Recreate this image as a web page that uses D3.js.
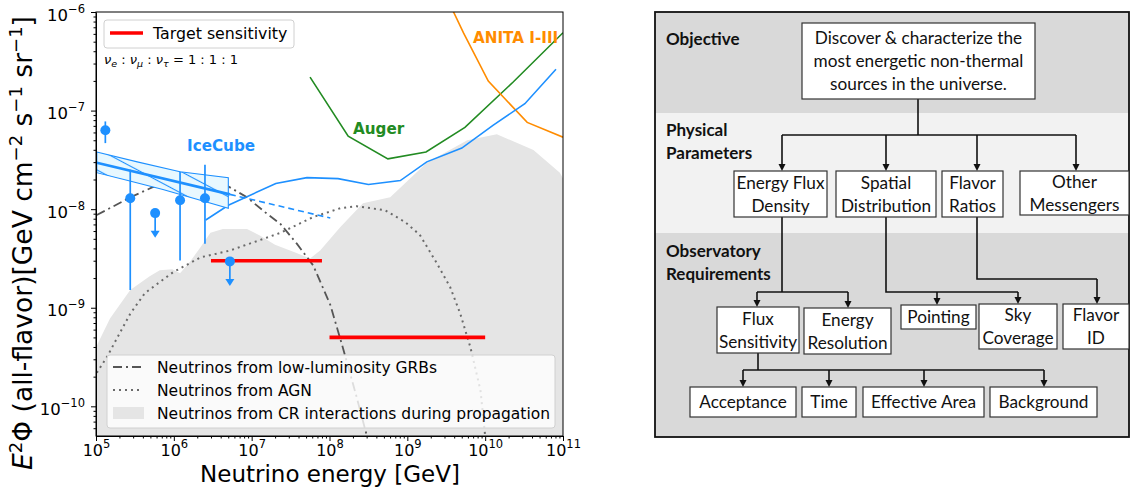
<!DOCTYPE html>
<html>
<head>
<meta charset="utf-8">
<script src="https://cdn.jsdelivr.net/npm/d3@7"></script>
<style>
  body { margin: 0; background: #fff; }
  svg { display: block; }
</style>
</head>
<body>
<div id="chart"></div>
<script>
// values, as [log10 E/GeV, log10 E^2 Phi]
const crFlux = [[5.00, -9.40], [5.18, -9.11], [5.44, -8.82], [5.69, -8.68], [5.82, -8.62], [5.98, -8.61],
  [6.08, -8.65], [6.21, -8.53], [6.34, -8.39], [6.47, -8.24], [6.63, -8.20], [6.94, -8.20], [7.11, -8.27],
  [7.30, -8.36], [7.56, -8.44], [7.75, -8.50], [7.88, -8.42], [8.14, -8.18], [8.43, -7.94], [8.78, -7.88],
  [9.25, -7.53], [9.77, -7.30], [10.15, -7.24], [10.62, -7.40], [10.96, -7.63], [11.00, -7.69]];
const agnFlux = [[5.01, -9.66], [5.14, -9.50], [5.44, -9.06], [5.63, -8.85], [5.99, -8.64], [6.34, -8.49],
  [6.72, -8.42], [7.37, -8.24], [7.79, -8.08], [8.14, -7.99], [8.35, -7.97], [8.71, -8.01], [8.97, -8.13],
  [9.16, -8.26], [9.38, -8.55], [9.55, -8.79], [9.68, -9.06], [9.81, -9.40], [9.94, -9.84], [10.00, -10.30]];
const grbFlux = [[5.01, -8.06], [5.44, -7.88], [5.72, -7.78], [6.02, -7.73], [6.34, -7.72], [6.68, -7.76],
  [6.94, -7.88], [7.17, -8.03], [7.37, -8.15], [7.58, -8.35], [7.79, -8.57], [8.01, -8.97], [8.17, -9.40],
  [8.35, -9.91], [8.48, -10.30]];
const augerLimit = [[7.75, -6.66], [8.24, -7.26], [8.75, -7.49], [9.24, -7.42], [9.74, -7.17], [10.36, -6.71], [11.00, -6.21]];
const anitaLimit = [[9.57, -5.96], [9.72, -6.21], [10.04, -6.70], [10.54, -7.12], [11.00, -7.27]];
const icecubeLimit = [[6.41, -8.11], [6.70, -7.96], [7.31, -7.74], [7.71, -7.68], [8.11, -7.69], [8.50, -7.75],
  [8.91, -7.71], [9.25, -7.52], [9.70, -7.38], [10.10, -7.15], [10.51, -6.93], [10.91, -6.58]];
const icecubeFit = [[5.01, -7.53], [6.72, -7.85]];
const icecubeFitExt = [[6.72, -7.85], [8.01, -8.09]];
const bandUpper = [[5.01, -7.42], [5.53, -7.52], [6.08, -7.62], [6.70, -7.68]];
const bandLower = [[5.01, -7.63], [5.41, -7.71], [5.86, -7.80], [6.70, -7.99]];
// [logE, logF, logF low, logF high]
const icecubePoints = [[5.12, -7.20, -7.33, -7.11], [5.44, -7.89, -8.82, -7.60],
  [6.08, -7.91, -8.52, -7.62], [6.40, -7.89, -8.35, -7.55]];
const icecubeUpperLimits = [[5.76, -8.04], [6.72, -8.53]];
// target sensitivity: [E from, E to, flux]
const targets = [[3e6, 8e7, 3e-9], [1e8, 1e10, 5e-10]];

const xTickExps = [5, 6, 7, 8, 9, 10, 11];
const yTickExps = [-10, -9, -8, -7, -6];
const legendLines = ['Neutrinos from low-luminosity GRBs', 'Neutrinos from AGN',
  'Neutrinos from CR interactions during propagation'];

// diagram texts
const bandTitles = [['Objective'], ['Physical', 'Parameters'], ['Observatory', 'Requirements']];
const boxTexts = {
  objective: ['Discover & characterize the', 'most energetic non-thermal', 'sources in the universe.'],
  flux: ['Energy Flux', 'Density'], spatial: ['Spatial', 'Distribution'], flavor: ['Flavor', 'Ratios'],
  other: ['Other', 'Messengers'], fluxSens: ['Flux', 'Sensitivity'], eres: ['Energy', 'Resolution'],
  pointing: ['Pointing'], sky: ['Sky', 'Coverage'], flavorId: ['Flavor', 'ID'],
  acceptance: ['Acceptance'], time: ['Time'], area: ['Effective Area'], background: ['Background']
};

const svg = d3.select('#chart').append('svg')
  .attr('width', 1130)
  .attr('height', 488)
  .style('font-family', 'DejaVu Sans');

const x = d3.scaleLog().domain([1e5, 1e11]).range([96, 563]);
const y = d3.scaleLog().domain([5e-11, 1e-6]).range([436, 12]);
const line = d3.line().x(d => x(10 ** d[0])).y(d => y(10 ** d[1]));

const defs = svg.append('defs');
defs.append('clipPath').attr('id', 'plotclip')
  .append('rect').attr('x', 96).attr('y', 12).attr('width', 467).attr('height', 424);
const hatch = defs.append('pattern').attr('id', 'hatch')
  .attr('patternUnits', 'userSpaceOnUse')
  .attr('width', 10).attr('height', 19)
  .attr('patternTransform', 'rotate(28)');
hatch.append('rect').attr('width', 10).attr('height', 19).attr('fill', '#e8f8ff');
hatch.append('line').attr('x1', 0).attr('x2', 10).attr('y1', 9.5).attr('y2', 9.5)
  .attr('stroke', '#1e90ff').attr('stroke-width', 1.1);

const plot = svg.append('g').attr('clip-path', 'url(#plotclip)');

// CR fill
const crArea = crFlux.concat([[11, -10.4], [5, -10.4]]);
plot.append('path').attr('d', line(crArea) + 'Z').attr('fill', '#e5e5e5');

// models
plot.append('path').attr('d', line(agnFlux)).attr('fill', 'none')
  .attr('stroke', '#6a6a6a').attr('stroke-width', 2).attr('stroke-dasharray', '2,4');
plot.append('path').attr('d', line(grbFlux)).attr('fill', 'none')
  .attr('stroke', '#555').attr('stroke-width', 1.8).attr('stroke-dasharray', '9,4,2,4');

// experiments
plot.append('path').attr('d', line(augerLimit)).attr('fill', 'none')
  .attr('stroke', '#228b22').attr('stroke-width', 1.6);
plot.append('path').attr('d', line(anitaLimit)).attr('fill', 'none')
  .attr('stroke', '#ff8c00').attr('stroke-width', 1.6);
plot.append('path').attr('d', line(icecubeLimit)).attr('fill', 'none')
  .attr('stroke', '#1e90ff').attr('stroke-width', 1.6);

// IceCube band
const band = bandUpper.concat(bandLower.slice().reverse());
plot.append('path').attr('d', line(band) + 'Z')
  .attr('fill', 'url(#hatch)').attr('stroke', '#1e90ff').attr('stroke-width', 1.1);
plot.append('path').attr('d', line(icecubeFit)).attr('fill', 'none')
  .attr('stroke', '#1e90ff').attr('stroke-width', 2.6);
plot.append('path').attr('d', line(icecubeFitExt)).attr('fill', 'none')
  .attr('stroke', '#1e90ff').attr('stroke-width', 1.6).attr('stroke-dasharray', '6,4');

// target sensitivity
plot.selectAll('.target').data(targets).enter().append('line')
  .attr('x1', d => x(d[0])).attr('x2', d => x(d[1]))
  .attr('y1', d => y(d[2])).attr('y2', d => y(d[2]))
  .attr('stroke', '#ff0000').attr('stroke-width', 3.6);

// IceCube points
plot.selectAll('.ebar').data(icecubePoints).enter().append('line')
  .attr('x1', d => x(10 ** d[0])).attr('x2', d => x(10 ** d[0]))
  .attr('y1', d => y(10 ** d[2])).attr('y2', d => y(10 ** d[3]))
  .attr('stroke', '#1e90ff').attr('stroke-width', 1.7);
plot.selectAll('.ulbar').data(icecubeUpperLimits).enter().append('line')
  .attr('x1', d => x(10 ** d[0])).attr('x2', d => x(10 ** d[0]))
  .attr('y1', d => y(10 ** d[1])).attr('y2', d => y(10 ** (d[1] - 0.19)))
  .attr('stroke', '#1e90ff').attr('stroke-width', 1.7);
plot.selectAll('.ulhead').data(icecubeUpperLimits).enter().append('path')
  .attr('d', d => {
    const px = x(10 ** d[0]), py = y(10 ** (d[1] - 0.25));
    return `M${px - 4.5},${py - 7}L${px + 4.5},${py - 7}L${px},${py}Z`;
  })
  .attr('fill', '#1e90ff');
plot.selectAll('.pt').data(icecubePoints.concat(icecubeUpperLimits)).enter().append('circle')
  .attr('cx', d => x(10 ** d[0])).attr('cy', d => y(10 ** d[1]))
  .attr('r', 5).attr('fill', '#1e90ff');

// labels
plot.append('text').text('IceCube').attr('x', 187).attr('y', 150.5)
  .attr('font-weight', 'bold').attr('font-size', 15.2).attr('fill', '#1e90ff');
plot.append('text').text('Auger').attr('x', 353).attr('y', 133.5)
  .attr('font-weight', 'bold').attr('font-size', 15.2).attr('fill', '#228b22');
plot.append('text').text('ANITA I-III').attr('x', 473).attr('y', 42.5)
  .attr('font-weight', 'bold').attr('font-size', 15.2).attr('fill', '#ff8c00');

// axes
const majorX = xTickExps.map(e => 10 ** e);
const minorX = d3.range(5, 11).flatMap(e => d3.range(2, 10).map(m => m * 10 ** e));
const majorY = yTickExps.map(e => 10 ** e);
const minorY = d3.range(-11, -6).flatMap(e => d3.range(2, 10).map(m => m * 10 ** e))
  .filter(v => v >= 5e-11 && v < 1e-6);

const supLabel = function (d) {
  const t = d3.select(this);
  const e = Math.round(Math.log10(d));
  t.text('10');
  t.append('tspan').attr('dy', -8).attr('font-size', 11.5).text(String(e).replace('-', '\u2212'));
};

svg.append('g').attr('transform', 'translate(0,436)')
  .call(d3.axisBottom(x).tickValues(minorX).tickSize(2.5).tickFormat(''))
  .call(g => g.select('.domain').remove());
svg.append('g').attr('transform', 'translate(0,436)')
  .call(d3.axisBottom(x).tickValues(majorX).tickSize(5).tickSizeOuter(0).tickPadding(4))
  .call(g => g.selectAll('.tick text').attr('font-size', 16).attr('font-family', 'DejaVu Sans')
    .attr('fill', '#000').each(supLabel));
svg.append('g').attr('transform', 'translate(96,0)')
  .call(d3.axisLeft(y).tickValues(minorY).tickSize(2.5).tickFormat(''))
  .call(g => g.select('.domain').remove());
svg.append('g').attr('transform', 'translate(96,0)')
  .call(d3.axisLeft(y).tickValues(majorY).tickSize(5).tickSizeOuter(0).tickPadding(6))
  .call(g => g.selectAll('.tick text').attr('font-size', 16.5).attr('font-family', 'DejaVu Sans')
    .attr('fill', '#000').attr('dy', '0.5em').each(supLabel));
svg.append('rect').attr('x', 96).attr('y', 12).attr('width', 467).attr('height', 424)
  .attr('fill', 'none').attr('stroke', '#000').attr('stroke-width', 1);

svg.append('text').text('Neutrino energy [GeV]')
  .attr('x', 330).attr('y', 482).attr('text-anchor', 'middle').attr('font-size', 23);
const yl = svg.append('text').attr('transform', 'translate(32,243) rotate(-90)')
  .attr('text-anchor', 'middle').attr('font-size', 26.5);
yl.append('tspan').attr('font-style', 'italic').text('E');
yl.append('tspan').attr('dy', -10.5).attr('font-size', 18).text('2');
yl.append('tspan').attr('dy', 10.5).text('\u03A6 (all-flavor)[GeV cm');
yl.append('tspan').attr('dy', -10.5).attr('font-size', 18).text('\u22122');
yl.append('tspan').attr('dy', 10.5).text(' s');
yl.append('tspan').attr('dy', -10.5).attr('font-size', 18).text('\u22121');
yl.append('tspan').attr('dy', 10.5).text(' sr');
yl.append('tspan').attr('dy', -10.5).attr('font-size', 18).text('\u22121');
yl.append('tspan').attr('dy', 10.5).text(']');

// legends
const leg1 = svg.append('g');
leg1.append('rect').attr('x', 104).attr('y', 20).attr('width', 190).attr('height', 28).attr('rx', 3)
  .attr('fill', '#fff').attr('fill-opacity', 0.8).attr('stroke', '#d0d0d0');
leg1.append('line').attr('x1', 110).attr('x2', 143).attr('y1', 33).attr('y2', 33)
  .attr('stroke', '#ff0000').attr('stroke-width', 3.6);
leg1.append('text').text('Target sensitivity').attr('x', 153).attr('y', 38.5).attr('font-size', 15.8);

const nu = svg.append('text').attr('x', 104).attr('y', 64).attr('font-size', 13);
[['e', ' : '], ['\u03BC', ' : '], ['\u03C4', ' = 1 : 1 : 1']].forEach(([s, after]) => {
  nu.append('tspan').attr('font-style', 'italic').text('\u03BD');
  nu.append('tspan').attr('dy', 3).attr('font-size', 9.5).attr('font-style', 'italic').text(s);
  nu.append('tspan').attr('dy', -3).text(after);
});

const leg2 = svg.append('g');
leg2.append('rect').attr('x', 107).attr('y', 355).attr('width', 448).attr('height', 73).attr('rx', 3)
  .attr('fill', '#fff').attr('fill-opacity', 0.8).attr('stroke', '#d0d0d0');
const legY = [367, 390, 413];
leg2.append('line').attr('x1', 113).attr('x2', 143).attr('y1', legY[0]).attr('y2', legY[0])
  .attr('stroke', '#555').attr('stroke-width', 1.8).attr('stroke-dasharray', '9,4,2,4');
leg2.append('line').attr('x1', 113).attr('x2', 143).attr('y1', legY[1]).attr('y2', legY[1])
  .attr('stroke', '#6a6a6a').attr('stroke-width', 2).attr('stroke-dasharray', '2,4');
leg2.append('rect').attr('x', 113).attr('y', legY[2] - 6).attr('width', 31).attr('height', 12)
  .attr('fill', '#e5e5e5');
leg2.selectAll('.lt').data(legendLines).enter().append('text')
  .text(d => d).attr('x', 157).attr('y', (d, i) => legY[i] + 5.5).attr('font-size', 15.5);

// ---------- diagram ----------
const dg = svg.append('g').style('font-family', 'Lato');
const bands = [[12, 101, '#d9d9d9'], [113, 120, '#f2f2f2'], [233, 204, '#d9d9d9']];
bands.forEach(([by, bh, c]) => {
  dg.append('rect').attr('x', 655).attr('y', by).attr('width', 474).attr('height', bh).attr('fill', c);
});
const titleY = [[45], [136, 159], [257, 280]];
bandTitles.forEach((lines, i) => {
  lines.forEach((t, j) => {
    dg.append('text').text(t).attr('x', 666).attr('y', titleY[i][j])
      .attr('font-weight', 'bold').attr('font-size', 17).attr('fill', '#111');
  });
});
dg.append('rect').attr('x', 655).attr('y', 12).attr('width', 474).attr('height', 425)
  .attr('fill', 'none').attr('stroke', '#111').attr('stroke-width', 1.8);

const layout = {
  objective: [802, 23, 233, 76], flux: [734, 171, 93, 46], spatial: [836, 171, 100, 46],
  flavor: [942, 171, 61, 46], other: [1020, 171, 109, 44], fluxSens: [717, 307, 82, 46],
  eres: [804, 308, 87, 46], pointing: [901, 305, 75, 24], sky: [979, 304, 78, 45],
  flavorId: [1063, 304, 66, 45], acceptance: [690, 387, 106, 30], time: [802, 387, 54, 30],
  area: [863, 387, 121, 30], background: [990, 387, 107, 30]
};

// connectors: trunk path, then arrow drops [x, y from, y to]
const trunks = [
  [[918, 99], [918, 135]], [[782, 135], [1076, 135]],
  [[782, 217], [782, 292]], [[757, 292], [848, 292]],
  [[886, 217], [886, 292], [1018, 292]],
  [[977, 217], [977, 279], [1097, 279]],
  [[758, 353], [758, 370]], [[743, 370], [1044, 370]]
];
const drops = [[782, 135, 171], [886, 135, 171], [977, 135, 171], [1076, 135, 171],
  [757, 292, 307], [848, 292, 308], [937, 292, 305], [1018, 292, 304], [1097, 279, 304],
  [743, 370, 387], [829, 370, 387], [924, 370, 387], [1044, 370, 387]];
trunks.forEach(pts => {
  dg.append('path').attr('d', d3.line()(pts)).attr('fill', 'none')
    .attr('stroke', '#111').attr('stroke-width', 1.6);
});
drops.forEach(([dx, y0, y1]) => {
  dg.append('line').attr('x1', dx).attr('x2', dx).attr('y1', y0).attr('y2', y1 - 5)
    .attr('stroke', '#111').attr('stroke-width', 1.6);
  dg.append('path').attr('d', `M${dx - 3.5},${y1 - 7}L${dx + 3.5},${y1 - 7}L${dx},${y1}Z`).attr('fill', '#111');
});

Object.keys(layout).forEach(k => {
  const [bx, by, bw, bh] = layout[k];
  dg.append('rect').attr('x', bx).attr('y', by).attr('width', bw).attr('height', bh)
    .attr('fill', '#fff').attr('stroke', '#333').attr('stroke-width', 1.2);
  const lines = boxTexts[k];
  const lh = 23;
  const cy = by + bh / 2 - (lines.length - 1) * lh / 2;
  lines.forEach((t, j) => {
    dg.append('text').text(t).attr('x', bx + bw / 2).attr('y', cy + j * lh + 6)
      .attr('text-anchor', 'middle').attr('font-size', 17.2).attr('fill', '#111');
  });
});
</script>
</body>
</html>
